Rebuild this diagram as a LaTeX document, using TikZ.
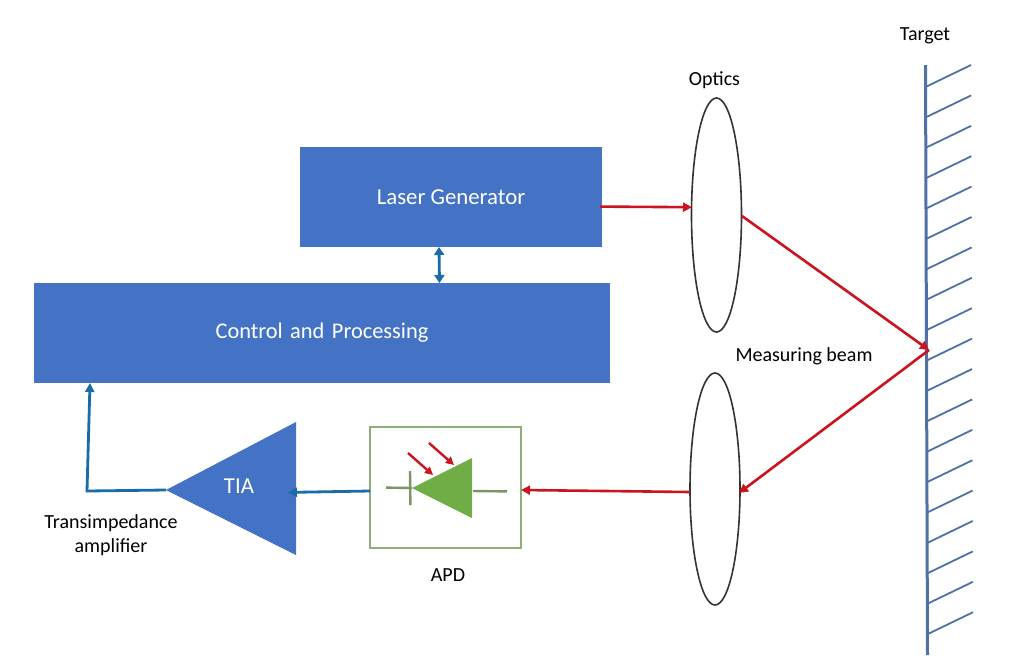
\documentclass[tikz,border=0pt]{standalone}
\usepackage{fontspec}
\setmainfont{Carlito}
\usetikzlibrary{arrows.meta,shapes.geometric,calc}
\definecolor{blockblue}{HTML}{4472C4}
\definecolor{linkblue}{HTML}{1A6BA8}
\definecolor{beamred}{HTML}{CC1420}
\definecolor{diodegreen}{HTML}{70AD47}
\definecolor{boxgreen}{HTML}{8FAF78}
\definecolor{wallblue}{HTML}{4F71A8}
\tikzset{
  x=1pt,y=-1pt,
  block/.style={draw=none,fill=blockblue,text=white,inner sep=0pt,font=\fontsize{22.8}{27}\selectfont},
  lens/.style={draw=black!80,line width=1.6pt,fill=none,ellipse,inner sep=0pt},
  caption/.style={text=black,inner sep=0pt,font=\fontsize{20}{24.5}\selectfont,align=center},
  redlink/.style={draw=beamred,line width=2.6pt,-{Triangle[length=9pt,width=9pt]}},
  bluelink/.style={draw=linkblue,line width=2.8pt,-{Triangle[length=9pt,width=9pt]}},
  wall/.style={draw=wallblue,line width=3pt},
  hatch/.style={draw=wallblue,line width=1.8pt},
  lead/.style={draw=boxgreen!85!black,line width=2.4pt},
  photon/.style={draw=beamred,line width=2.4pt,-{Triangle[length=8pt,width=8pt]}},
}
\begin{document}
\begin{tikzpicture}
\useasboundingbox[fill=white] (0,0) rectangle (1017,665);

% processing blocks
\node[block,minimum width=302pt,minimum height=100pt] (laser) at (451,197) {\raisebox{-1pt}{Laser Generator}};
\node[block,minimum width=576pt,minimum height=100pt,text width=576pt,align=center,font=\fontsize{22.4}{27}\selectfont] (ctrl) at (322,333) {\raisebox{-1pt}{Control and Processing}};

% lenses
\node[lens,minimum width=50pt,minimum height=234pt] (lensA) at (716.5,215) {};
\node[lens,minimum width=50pt,minimum height=232pt] (lensB) at (715,489) {};

% amplifier
\coordinate (tiaTip) at (166,490);
\fill[blockblue] (tiaTip) -- (296,422) -- (296,555) -- cycle;
\node[text=white,inner sep=0pt,font=\fontsize{22.8}{27}\selectfont] (tia) at (239,486) {TIA};
\coordinate (tiaIn) at (288,492.4);

% photodiode module
\node[draw=boxgreen,line width=1.8pt,minimum width=151pt,minimum height=121pt,inner sep=0pt] (apd) at (445.5,487.5) {};
\coordinate (dTip) at (412,488);
\fill[diodegreen] (dTip) -- (472,458) -- (472,518) -- cycle;
\draw[lead] (386,487.6) -- (dTip);
\draw[lead] (410,471) -- (410.4,505);
\draw[lead] (473,491) -- (507,491.4);
\draw[photon] (408,453) -- (433,475);
\draw[photon] (429,443) -- (454,465);

% target wall with hatching
\coordinate (wallTop) at (925.5,65);
\coordinate (wallBot) at (927.5,655);
\draw[wall] (wallTop) -- (wallBot);
\foreach \k in {0,...,18}{
  \draw[hatch] (925.5+\k*0.11,87+\k*30.4) -- ++(45.5,-22);
}
\coordinate (spot) at (929,350);

% beam path
\coordinate (laserOut) at (600,206.6);
\coordinate (lensAin) at (692,207.2);
\coordinate (lensAout) at (742,216);
\coordinate (lensBin) at (739,493);
\coordinate (lensBout) at (690,492);
\coordinate (apdIn) at (521,490);
\draw[redlink] (laserOut) -- (lensAin);
\draw[redlink] (lensAout) -- (spot);
\draw[redlink] (spot) -- (lensBin);
\draw[redlink] (lensBout) -- (apdIn);

% signal path
\coordinate (apdOut) at (370,491);
\coordinate (corner) at (87,491);
\coordinate (ctrlIn) at (90,383);
\draw[bluelink] (apdOut) -- (tiaIn);
\draw[bluelink] (tiaTip) -- (corner) -- (ctrlIn);
\coordinate (busTop) at (439,247);
\coordinate (busBot) at (439.5,283);
\draw[draw=linkblue,line width=2.8pt,{Triangle[length=8pt,width=10pt]}-{Triangle[length=8pt,width=10pt]}] (busTop) -- (busBot);

% labels
\node[caption] (lblTarget) at (925,36) {Target};
\node[caption] (lblOptics) at (714.5,80) {Optics};
\node[caption] (lblBeam) at (804,356) {Measuring beam};
\node[caption] (lblApd) at (448,575) {APD};
\node[caption] (lblTia) at (111,535) {Transimpedance\\amplifier};
\end{tikzpicture}
\end{document}
